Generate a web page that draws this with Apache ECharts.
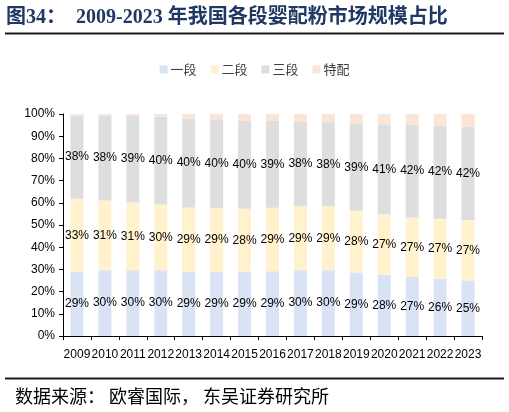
<!DOCTYPE html>
<html>
<head>
<meta charset="utf-8">
<script src="https://cdn.jsdelivr.net/npm/echarts@6/dist/echarts.min.js"></script>
<style>
  html, body { margin: 0; padding: 0; background: #fff; }
  #chart { width: 509px; height: 412px; }
</style>
</head>
<body>
<div id="chart"></div>
<script>
// data (percent of market)
const years = ['2009','2010','2011','2012','2013','2014','2015','2016','2017','2018','2019','2020','2021','2022','2023'];
const stage1 = [28.9, 29.6, 29.6, 29.6, 28.9, 28.9, 28.9, 29.2, 29.6, 29.6, 28.6, 27.6, 26.6, 25.9, 25.0];
const stage2 = [32.9, 31.4, 30.6, 29.6, 29.0, 28.7, 28.4, 28.6, 28.9, 28.8, 27.8, 27.2, 26.8, 26.9, 27.1];
const stage3 = [37.5, 38.3, 38.9, 39.7, 39.9, 39.7, 39.6, 39.0, 37.9, 37.9, 39.1, 40.6, 41.7, 42.0, 42.1];
const special = [0.7, 0.7, 0.9, 1.1, 2.2, 2.7, 3.1, 3.2, 3.6, 3.7, 4.5, 4.6, 4.9, 5.2, 5.8];
const yTicks = ['0%','10%','20%','30%','40%','50%','60%','70%','80%','90%','100%'];

const chart = echarts.init(document.getElementById('chart'));

const lbl = {
  show: true,
  position: 'inside',
  color: '#000',
  fontSize: 12,
  fontFamily: 'Liberation Sans',
  formatter: p => Math.round(p.value) + '%'
};

function bar(name, data, color, showLabel) {
  return {
    name: name,
    type: 'bar',
    stack: 'all',
    data: data,
    barWidth: 13,
    itemStyle: { color: color },
    label: showLabel ? lbl : { show: false }
  };
}

chart.setOption({
  animation: false,
  title: {
    text: '图34：  2009-2023 年我国各段婴配粉市场规模占比',
    left: 1,
    top: 3,
    textStyle: {
      color: '#1F3864',
      fontSize: 20,
      fontWeight: 'bold',
      fontFamily: 'Liberation Serif, Noto Sans CJK SC'
    }
  },
  legend: {
    top: 58,
    left: 'center',
    itemWidth: 8,
    itemHeight: 8,
    itemGap: 14,
    icon: 'rect',
    textStyle: { color: '#404040', fontSize: 13, fontFamily: 'Noto Sans CJK SC', padding: [0, 0, 0, -2] },
    data: ['一段', '二段', '三段', '特配']
  },
  grid: { left: 63, right: 27, top: 114, bottom: 76 },
  xAxis: {
    type: 'category',
    data: years,
    axisLine: { lineStyle: { color: '#000', width: 1 } },
    axisTick: { show: true, alignWithLabel: false, length: 4, lineStyle: { color: '#000' } },
    axisLabel: { interval: 0, color: '#000', fontSize: 12, margin: 13, fontFamily: 'Liberation Sans' }
  },
  yAxis: {
    type: 'value',
    min: 0,
    max: 100,
    interval: 10,
    splitLine: { show: false },
    axisLine: { show: true, lineStyle: { color: '#000', width: 1 } },
    axisTick: { show: true, inside: false, length: 4, lineStyle: { color: '#000' } },
    axisLabel: {
      color: '#000',
      fontSize: 12,
      margin: 8,
      fontFamily: 'Liberation Sans',
      formatter: v => yTicks[Math.round(v / 10)]
    }
  },
  series: [
    bar('一段', stage1, '#DAE3F3', true),
    bar('二段', stage2, '#FFF2CC', true),
    bar('三段', stage3, '#DEDEDE', true),
    bar('特配', special, '#FBE5D6', false)
  ],
  graphic: [
    { type: 'line', shape: { x1: 5, y1: 33.5, x2: 504, y2: 33.5 }, style: { stroke: '#1a1a1a', lineWidth: 2 } },
    { type: 'line', shape: { x1: 5, y1: 378.5, x2: 504, y2: 378.5 }, style: { stroke: '#1a1a1a', lineWidth: 2 } },
    {
      type: 'text',
      left: 15,
      top: 387,
      style: {
        text: '数据来源： 欧睿国际， 东吴证券研究所',
        fill: '#000',
        font: '18px "Noto Sans CJK SC"'
      }
    }
  ]
});
</script>
</body>
</html>
